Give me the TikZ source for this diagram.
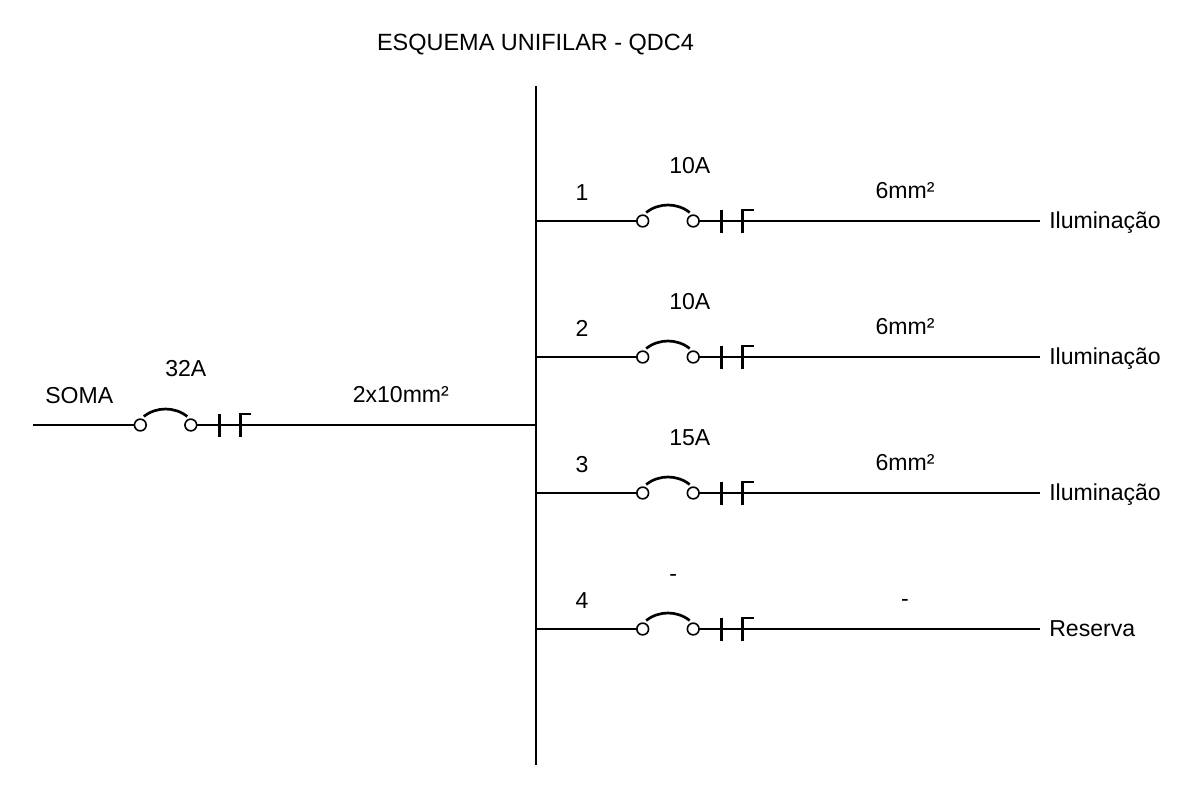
\documentclass[tikz,border=0pt]{standalone}
\usepackage{fontspec}
\setmainfont{Liberation Sans}
\tikzset{
  wire/.style={line width=1.7pt,black},
  thinwire/.style={line width=1.35pt,black},
  arcwire/.style={line width=2pt,black},
  term/.style={circle,draw=black,line width=1.2pt,fill=white,minimum size=8.8pt,inner sep=0pt},
  lbl/.style={font=\fontsize{17.3}{20}\selectfont,text=black,inner sep=0pt,anchor=base},
  lblw/.style={lbl,anchor=base west},
  barA/.style={line width=2.4pt,black},
  barB/.style={line width=2pt,black}
}
% #1 id, #2 x of left terminal, #3 y
\newcommand{\breaker}[3]{%
  \draw[thinwire] (#2+50.5,#3) -- (#2+79,#3);
  \node[term] (#1-L) at (#2,#3) {};
  \node[term] (#1-R) at (#2+50.5,#3) {};
  \coordinate (#1-A) at (#2+79,#3);
  \coordinate (#1-B) at (#2+100,#3);
  \draw[barA] (#2+79,#3-11.5) -- (#1-A) -- (#2+79,#3+12);
  \draw[barB] (#2+111,#3-11) -- (#2+100,#3-11) -- (#1-B) -- (#2+100,#3+12);
  \draw[arcwire] (#2+3.5,#3-8.5) .. controls (#2+16,#3-18.5) and (#2+34.5,#3-18.5) .. (#2+47,#3-8.5);
}
\begin{document}
\begin{tikzpicture}[x=0.75pt,y=-0.75pt]
\useasboundingbox (0,0) rectangle (1177,786);
\fill[white] (0,0) rectangle (1177,786);
\node[lbl,font=\fontsize{17.6}{20}\selectfont] (title) at (535.5,50) {ESQUEMA UNIFILAR - QDC4};
\coordinate (busT) at (536,86);
\coordinate (busB) at (536,765);
\draw[thinwire] (busT) -- (busB);
% incoming
\coordinate (inS) at (33,425);
\coordinate (inJ) at (536,425);
\draw[wire] (inS) -- (140.3,425);
\breaker{m}{140.3}{425}
\draw[wire] (m-B) -- (inJ);
\draw[thinwire] (m-A) -- (m-B);
\node[lblw] (soma) at (45,403.5) {SOMA};
\node[lblw] (ia) at (165,376) {32A};
\node[lblw] (ic) at (352.5,402) {2x10mm²};
% branches
\foreach \n/\y/\amp/\cab/\load in {1/221/10A/6mm²/Iluminação,2/357/10A/6mm²/Iluminação,3/493/15A/6mm²/Iluminação,4/629/-/-/Reserva}{
  \coordinate (j\n) at (536,\y);
  \coordinate (e\n) at (1040,\y);
  \draw[thinwire] (j\n) -- (642.7,\y);
  \breaker{b\n}{642.7}{\y}
  \node[lblw] (load\n) at (1049,\y+7.5) {\load};
  \draw[thinwire] (b\n-A) -- (b\n-B);
  \draw[wire] (b\n-B) -- (e\n);
  \node[lbl] (num\n) at (582,\y-21) {\n};
  \node[lblw] (amp\n) at (669,\y-48) {\amp};
  \node[lbl] (cab\n) at (905,\y-22.5) {\cab};
}
\end{tikzpicture}
\end{document}
